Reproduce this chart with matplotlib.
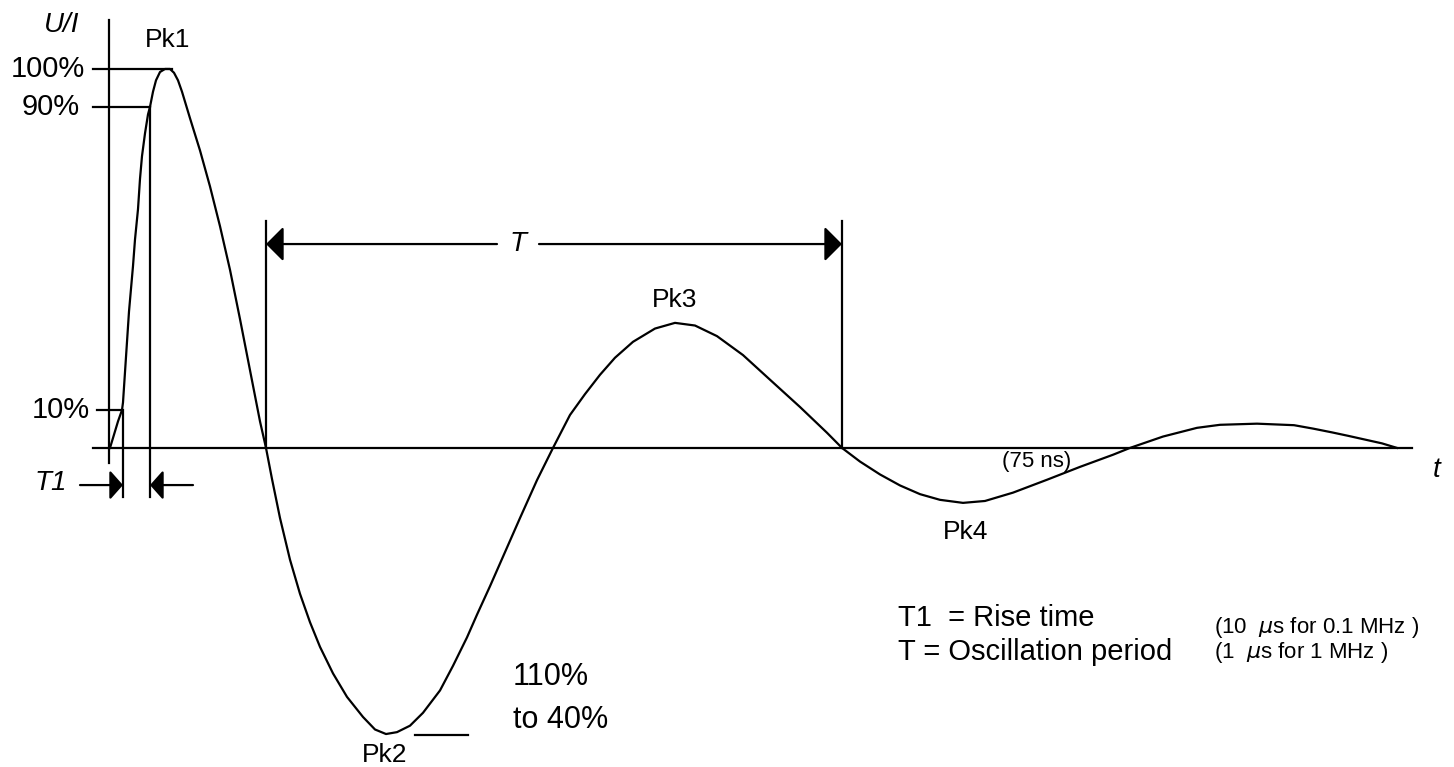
import matplotlib
matplotlib.use("Agg")
import matplotlib.pyplot as plt

plt.rcParams['font.family'] = ['Liberation Sans', 'DejaVu Sans']

# damped oscillatory wave
# time in arbitrary units (0 = start of rise), amplitude in % of Pk1
t = [0, 4, 8, 12, 13, 15, 17, 19, 21, 23, 25, 28, 30, 32, 35, 38, 40, 43, 46, 50, 55, 60,
     64, 68, 72, 76, 80, 90, 100, 110, 120, 130, 140, 150, 156,
     162, 170, 180, 190, 200, 210, 223, 237, 253, 265, 276, 287, 300, 313, 330, 343, 357, 367,
     380, 395, 410, 427, 443,
     460, 475, 490, 505, 523, 545, 565, 585, 607, 633, 660, 690, 717, 732,
     750, 770, 790, 810, 830, 853, 875, 903, 937, 970, 1003, 1020,
     1053, 1087, 1110, 1147, 1184, 1203, 1222, 1238, 1255, 1272, 1287]
u = [0, 3.5, 7, 10, 12, 20, 28, 36, 42, 48, 55, 63, 71, 77, 83, 88, 90, 94, 97, 99.2, 100, 100,
     99, 97, 94, 90.5, 87, 78.5, 69, 58.5, 47, 34, 20.5, 7, 0,
     -8.2, -18.5, -29.5, -38.5, -46, -52.5, -59.5, -65.7, -71, -74.3, -75.5, -75, -73.3, -69.9,
     -64, -57.5, -50, -44,
     -36.5, -27.5, -18.5, -8.5, 0,
     8.7, 14.2, 19.3, 23.8, 28, 31.5, 33, 32.3, 29.5, 24.5, 18, 10.8, 4, 0,
     -3.6, -7, -9.9, -12.2, -13.7, -14.5, -14, -11.8, -8.4, -5, -1.8, 0,
     3, 5.3, 6.1, 6.4, 6, 5.1, 4.1, 3.2, 2.2, 1.2, 0]

# level marks on the U/I axis
levels = [100, 90, 10]
level_labels = ['100%', '90%', '10%']
level_line_start = [-17, -17, -13]
level_line_end = [62, 40, 12]
level_label_x = [-25, -30, -20]

# rise time T1 (10% -> 90%) and oscillation period T
t1_start, t1_end = 13, 40
period_start, period_end = 156, 732

peaks = ['Pk1', 'Pk2', 'Pk3', 'Pk4']
peak_t = [58, 275, 565, 856]
peak_u = [107.7, -81, 39, -22.2]

fig = plt.figure(figsize=(14.54, 7.67), dpi=100)
ax = fig.add_axes([0, 0, 1, 1])
ax.set_xlim(-110, 1344)
ax.set_ylim(-84.2, 118.2)
ax.axis('off')

lw = 1.6
ax.plot(t, u, color='black', lw=lw)

# axes
ax.plot([-17, 1302], [0, 0], color='black', lw=lw)
ax.plot([-1, -1], [-4, 112.9], color='black', lw=lw)
ax.text(-48, 111.6, 'U/I', fontsize=20, style='italic', ha='center', va='center')
ax.text(1327, -5.8, 't', fontsize=20, style='italic', ha='center', va='center')

for lv, lab, x0, x1, lx in zip(levels, level_labels, level_line_start, level_line_end, level_label_x):
    ax.plot([x0, x1], [lv, lv], color='black', lw=lw)
    ax.text(lx, lv, lab, fontsize=21, ha='right', va='center')

# T1 marks
ax.plot([t1_start, t1_start], [10, -12.9], color='black', lw=lw)
ax.plot([t1_end, t1_end], [90, -12.9], color='black', lw=lw)
head1 = dict(arrowstyle='-|>,head_length=0.4,head_width=0.45', color='black', lw=lw,
             shrinkA=0, shrinkB=0, mutation_scale=20)
ax.annotate('', xy=(t1_start, -9.8), xytext=(t1_start - 43, -9.8), arrowprops=head1)
ax.annotate('', xy=(t1_end, -9.8), xytext=(t1_end + 43, -9.8), arrowprops=head1)
ax.text(-59, -9.2, 'T1', fontsize=20, style='italic', ha='center', va='center')

# T marks
ax.plot([period_start, period_start], [0, 59.9], color='black', lw=lw)
ax.plot([period_end, period_end], [0, 59.9], color='black', lw=lw)
head2 = dict(arrowstyle='-|>,head_length=0.54,head_width=0.54', color='black', lw=lw,
             shrinkA=0, shrinkB=0, mutation_scale=20)
t_mid = (period_start + period_end) / 2 - 36
ax.annotate('', xy=(period_start, 53.8), xytext=(t_mid - 21, 53.8), arrowprops=head2)
ax.annotate('', xy=(period_end, 53.8), xytext=(t_mid + 21, 53.8), arrowprops=head2)
ax.text(t_mid, 53.8, 'T', fontsize=20, style='italic', ha='center', va='center')

for name, pt, pu in zip(peaks, peak_t, peak_u):
    ax.text(pt, pu, name, fontsize=19, ha='center', va='center')

# Pk2 range
ax.plot([305, 358], [-75.7, -75.7], color='black', lw=lw)
ax.text(403, -60.4, '110%', fontsize=22, ha='left', va='center')
ax.text(403, -71.8, 'to 40%', fontsize=22, ha='left', va='center')

ax.text(892, -3.7, '(75 ns)', fontsize=16, ha='left', va='center')

ax.text(788, -44.9, 'T1  = Rise time', fontsize=21, ha='left', va='center')
ax.text(788, -53.8, 'T = Oscillation period', fontsize=21, ha='left', va='center')
ax.text(1104, -47.5, r'(10  $\mu$s for 0.1 MHz )', fontsize=16, ha='left', va='center')
ax.text(1104, -54.1, r'(1  $\mu$s for 1 MHz )', fontsize=16, ha='left', va='center')

fig.savefig('out.png', dpi=100, facecolor='white')
